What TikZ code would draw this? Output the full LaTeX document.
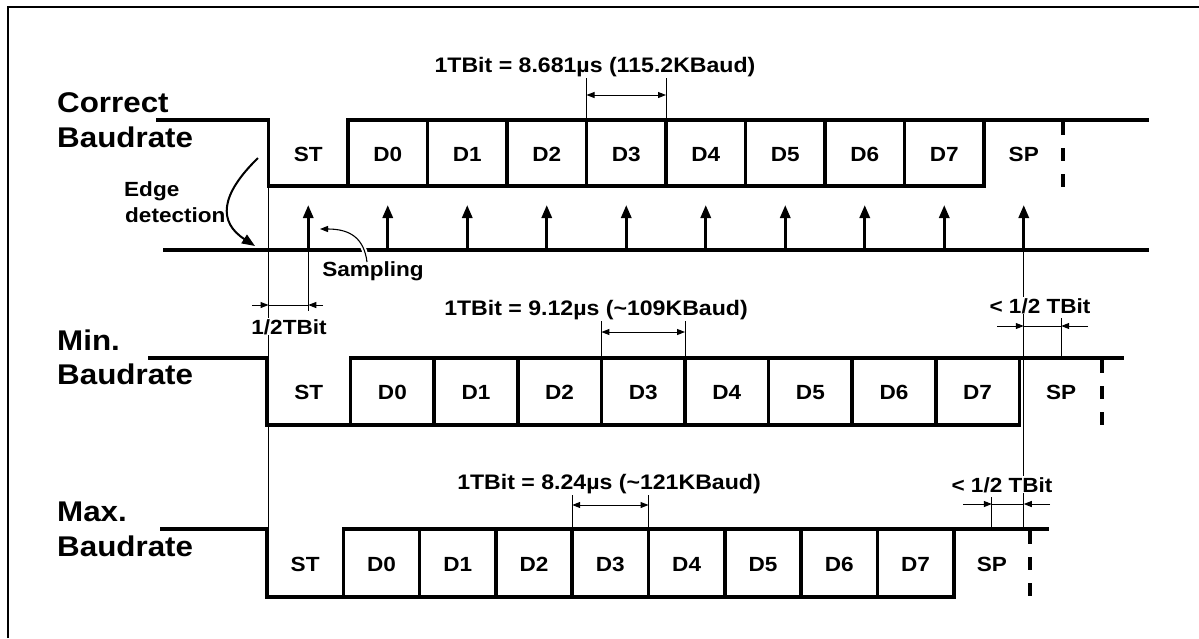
\documentclass[tikz,border=0pt]{standalone}
\usepackage{fontspec}
\setmainfont{Liberation Sans}[FakeStretch=1.1]
\usetikzlibrary{arrows.meta,calc}
\begin{document}
\begin{tikzpicture}[x=1pt,y=-1pt,
  sig/.style={line width=3.6pt, line join=miter, line cap=rect},
  dsh/.style={line width=3.6pt, line cap=butt, dash pattern=on 13pt off 13pt},
  thinl/.style={line width=1pt},
  samp/.style={line width=3pt, -{Triangle[width=10pt,length=13pt]}},
  dimin/.style={line width=1pt, -{Triangle[width=6pt,length=8pt]}},
  dimboth/.style={line width=1pt, {Triangle[width=6pt,length=8pt]}-{Triangle[width=6pt,length=8pt]}},
  big/.style={font=\fontsize{28.5}{34}\selectfont\bfseries, inner sep=0pt, anchor=base west},
  blab/.style={font=\fontsize{20.5}{24}\selectfont\bfseries, inner sep=0pt, anchor=base},
  ttl/.style={font=\fontsize{21}{25}\selectfont\bfseries, inner sep=1pt, anchor=base},
  sml/.style={font=\fontsize{20.5}{24}\selectfont\bfseries, inner sep=1pt, anchor=base},
  whitebg/.style={fill=white}]
\useasboundingbox (0,0) rectangle (1199,638);
\fill[white] (0,0) rectangle (1199,638);
% frame
\draw[line width=2pt] (8,638) -- (8,7) -- (1199,7);

% row labels
\node[big] (lc1) at (57,112) {Correct};
\node[big] (lc2) at (57,147) {Baudrate};
\node[big] (lm1) at (57,350) {Min.};
\node[big] (lm2) at (57,384) {Baudrate};
\node[big] (lx1) at (57,521) {Max.};
\node[big] (lx2) at (57,556) {Baudrate};

% ===== correct baudrate row =====
\draw[sig] (158,120) -- (268.5,120) -- (268.5,186) -- ({268.5+9*79.5},186) -- ({268.5+9*79.5},120);
\draw[sig] ({268.5+79.5},186) -- ({268.5+79.5},120) -- (1147,120);
\foreach \i in {2,...,8}
  \draw[sig] ({268.5+\i*79.5},120) -- ({268.5+\i*79.5},186);
\foreach \l [count=\i from 0] in {ST,D0,D1,D2,D3,D4,D5,D6,D7,SP}
  \node[blab] (c\l) at ({268.5+(\i+0.5)*79.5},161) {\l};
\draw[dsh] (1063,122) -- (1063,190);

% title
\node[ttl] (ct) at (595,72) {1TBit = 8.681µs (115.2KBaud)};
\coordinate (ce1) at ({268.5+4*79.5},78);
\coordinate (ce2) at ({268.5+5*79.5},78);
\draw[thinl] (ce1) -- ++(0,42);
\draw[thinl] (ce2) -- ++(0,42);
\draw[dimboth] ($(ce1)+(0,17)$) -- ($(ce2)+(0,17)$);

% sampling line
\draw[sig] (165,250) -- (1147,250);
\foreach \i in {0,...,9}
  \draw[samp] ({268.5+(\i+0.5)*79.5},250) -- ({268.5+(\i+0.5)*79.5},205);

% edge detection
\node[sml, anchor=base west] (ed1) at (123,196) {Edge};
\node[sml, anchor=base west] (ed2) at (124,222) {detection};
\draw[line width=2pt, -{Triangle[width=10pt,length=13pt]}] (258,158) .. controls (220,195) and (218,222) .. (255,246);

% sampling label
\node[sml] (smp) at (373,276) {Sampling};
\draw[line width=1.1pt, preaction={draw=white, line width=5pt}, -{Triangle[width=6pt,length=8pt]}]
  (367,262) .. controls (364,238) and (350,229) .. (320,229);

% vertical reference lines
\coordinate (edge) at (268.5,186);
\coordinate (spc) at ({268.5+9.5*79.5},250);
\draw[thinl] (edge) -- (268.5,529);
\draw[thinl] (308.25,250) -- (308.25,311);
\draw[thinl] (spc) -- ({268.5+9.5*79.5},529);

% 1/2 TBit
\node[sml, whitebg] (half) at (289,334) {1/2TBit};
\draw[dimin] (252,305) -- (268.5,305);
\draw[thinl] (268.5,305) -- (308.25,305);
\draw[dimin] (323,305) -- (308.25,305);

% ===== min baudrate row =====
\def\wm{83.6}
\draw[sig] (150,358) -- (267,358) -- (267,425) -- ({267+9*\wm},425) -- ({267+9*\wm},358);
\draw[sig] ({267+\wm},425) -- ({267+\wm},358) -- (1122,358);
\foreach \i in {2,...,8}
  \draw[sig] ({267+\i*\wm},358) -- ({267+\i*\wm},425);
\foreach \l [count=\i from 0] in {ST,D0,D1,D2,D3,D4,D5,D6,D7,SP}
  \node[blab] (m\l) at ({267+(\i+0.5)*\wm},399) {\l};
\draw[dsh] (1102,360) -- (1102,428);

\node[ttl] (mt) at (596,315) {1TBit = 9.12µs (\textasciitilde109KBaud)};
\draw[thinl] ({267+4*\wm},321) -- ({267+4*\wm},358);
\draw[thinl] ({267+5*\wm},321) -- ({267+5*\wm},358);
\draw[dimboth] ({267+4*\wm},332) -- ({267+5*\wm},332);

\node[sml, whitebg] (mh) at (1040,313) {< 1/2 TBit};
\draw[thinl] ({267+9.5*\wm},318) -- ({267+9.5*\wm},358);
\draw[dimin] (997,326) -- ({268.5+9.5*79.5},326);
\draw[thinl] ({268.5+9.5*79.5},326) -- ({267+9.5*\wm},326);
\draw[dimin] (1088,326) -- ({267+9.5*\wm},326);

% ===== max baudrate row =====
\def\wx{76.3}
\draw[sig] (162,529) -- (267,529) -- (267,597) -- ({267+9*\wx},597) -- ({267+9*\wx},529);
\draw[sig] ({267+\wx},597) -- ({267+\wx},529) -- (1047,529);
\foreach \i in {2,...,8}
  \draw[sig] ({267+\i*\wx},529) -- ({267+\i*\wx},597);
\foreach \l [count=\i from 0] in {ST,D0,D1,D2,D3,D4,D5,D6,D7,SP}
  \node[blab] (x\l) at ({267+(\i+0.5)*\wx},571) {\l};
\draw[dsh] (1030,531) -- (1030,599);

\node[ttl] (xt) at (609,489) {1TBit = 8.24µs (\textasciitilde121KBaud)};
\draw[thinl] ({267+4*\wx},495) -- ({267+4*\wx},529);
\draw[thinl] ({267+5*\wx},495) -- ({267+5*\wx},529);
\draw[dimboth] ({267+4*\wx},505) -- ({267+5*\wx},505);

\node[sml, whitebg] (xh) at (1002,492) {< 1/2 TBit};
\draw[thinl] ({267+9.5*\wx},497) -- ({267+9.5*\wx},529);
\draw[dimin] (963,504) -- ({267+9.5*\wx},504);
\draw[thinl] ({267+9.5*\wx},504) -- ({268.5+9.5*79.5},504);
\draw[dimin] (1050,504) -- ({268.5+9.5*79.5},504);
\end{tikzpicture}
\end{document}
